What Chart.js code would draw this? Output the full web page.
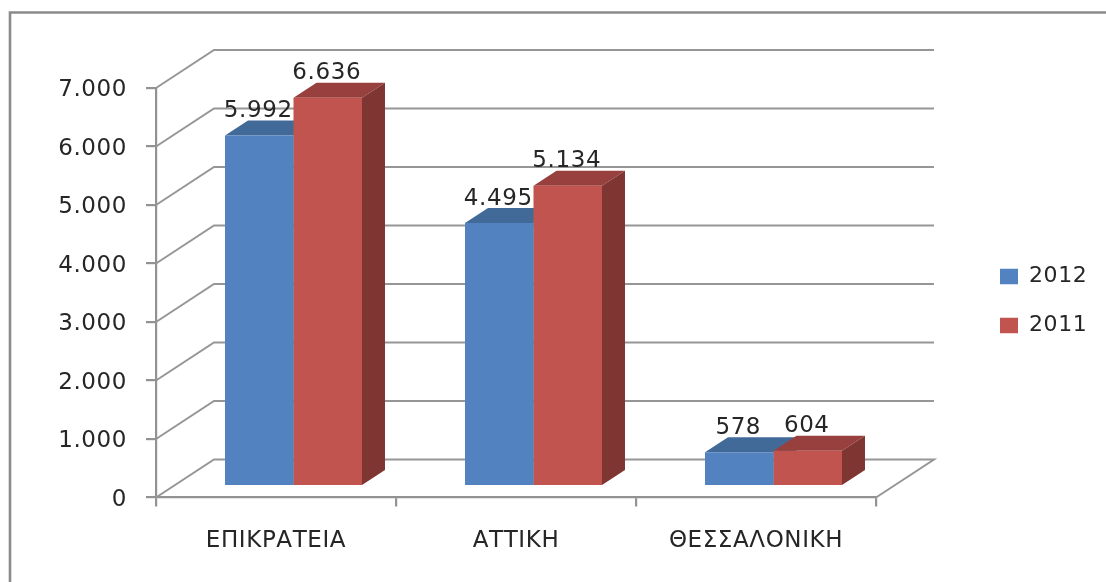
<!DOCTYPE html>
<html>
<head>
<meta charset="utf-8">
<style>
html,body{margin:0;padding:0;background:#fff;}
canvas{display:block;filter:blur(0.7px);}
</style>
<script src="https://cdn.jsdelivr.net/npm/chart.js@4"></script>
</head>
<body>
<canvas id="c" width="1106" height="582" style="width:1106px;height:582px"></canvas>
<script>
const categories = ['ΕΠΙΚΡΑΤΕΙΑ', 'ΑΤΤΙΚΗ', 'ΘΕΣΣΑΛΟΝΙΚΗ'];
const values2012 = [5992, 4495, 578];
const values2011 = [6636, 5134, 604];
const seriesNames = ['2012', '2011'];
const yTicks = [0, 1000, 2000, 3000, 4000, 5000, 6000, 7000];

const FONT = '"DejaVu Sans"';
const TEXT = '#262626';
const SPACING = '0.6px';
const fmt = v => String(v).replace(/\B(?=(\d{3})+$)/g, '.');
const wall = {dx: 58, dy: -38};
const barOff = {dx: 17.5, dy: -11.5};
const depth = {dx: 23, dy: -15};
const faces = [{top: '#426a99', side: '#3a5d85'}, {top: '#97403e', side: '#7f3633'}];

function poly(ctx, pts, fill) {
  ctx.beginPath();
  pts.forEach((p, i) => i ? ctx.lineTo(p[0], p[1]) : ctx.moveTo(p[0], p[1]));
  ctx.closePath();
  ctx.fillStyle = fill;
  ctx.fill();
}

const threeD = {
  id: 'threeD',
  beforeLayout(chart) {
    const lg = chart.legend;
    if (lg && !lg._patched) {
      const f = lg.fit;
      lg.fit = function () { f.call(this); this.width = 230; };
      lg._patched = true;
    }
  },
  afterLayout(chart) {
    const lg = chart.legend;
    lg.left = 973; lg.right = 1106; lg.top = 238.5; lg.bottom = 400;
  },
  beforeDraw(chart) {
    const ctx = chart.ctx;
    ctx.letterSpacing = SPACING;
    ctx.save();
    ctx.strokeStyle = '#8a8a8a';
    ctx.lineWidth = 2.6;
    ctx.beginPath();
    ctx.moveTo(10, 582); ctx.lineTo(10, 12.5); ctx.lineTo(1106, 12.5);
    ctx.stroke();
    ctx.restore();
  },
  beforeDatasetsDraw(chart) {
    const ctx = chart.ctx, y = chart.scales.y, x = chart.scales.x;
    const L = x.left, R = x.right;
    ctx.save();
    ctx.strokeStyle = '#969696';
    ctx.lineWidth = 2;
    yTicks.forEach(v => {
      const p = y.getPixelForValue(v);
      ctx.beginPath();
      ctx.moveTo(L, p);
      ctx.lineTo(L + wall.dx, p + wall.dy);
      ctx.lineTo(R + wall.dx, p + wall.dy);
      if (v === 0) ctx.lineTo(R, p);
      ctx.stroke();
    });
    ctx.restore();
    ctx.save();
    ctx.translate(barOff.dx, barOff.dy);
    chart.getSortedVisibleDatasetMetas().forEach(m => {
      const c = faces[m.index];
      m.data.forEach(el => {
        const b = el.getProps(['x', 'y', 'base', 'width'], true);
        const l = b.x - b.width / 2, r = b.x + b.width / 2;
        poly(ctx, [[l, b.y], [r, b.y], [r + depth.dx, b.y + depth.dy], [l + depth.dx, b.y + depth.dy]], c.top);
        poly(ctx, [[r, b.y], [r + depth.dx, b.y + depth.dy], [r + depth.dx, b.base + depth.dy], [r, b.base]], c.side);
      });
    });
  },
  afterDatasetsDraw(chart) {
    const ctx = chart.ctx;
    ctx.restore();
    ctx.save();
    ctx.font = '23px ' + FONT;
    ctx.fillStyle = TEXT;
    ctx.textAlign = 'center';
    ctx.textBaseline = 'alphabetic';
    chart.getSortedVisibleDatasetMetas().forEach(m => {
      m.data.forEach((el, i) => {
        const b = el.getProps(['x', 'y'], true);
        const v = chart.data.datasets[m.index].data[i];
        ctx.fillText(fmt(v), b.x + barOff.dx - 1, b.y + barOff.dy - 18.5);
      });
    });
    ctx.restore();
  }
};

new Chart(document.getElementById('c'), {
  type: 'bar',
  data: {
    labels: categories,
    datasets: [
      {label: seriesNames[0], data: values2012, backgroundColor: '#5283c0', clip: false},
      {label: seriesNames[1], data: values2011, backgroundColor: '#c2544f', clip: false}
    ]
  },
  options: {
    responsive: false,
    animation: false,
    devicePixelRatio: 1,
    categoryPercentage: 137 / 240,
    barPercentage: 1,
    layout: {padding: {top: 88, left: 0, right: 0, bottom: 0}},
    plugins: {
      tooltip: {enabled: false},
      title: {display: false},
      legend: {
        display: true,
        position: 'right',
        align: 'start',
        labels: {
          boxWidth: 18,
          boxHeight: 15.5,
          padding: 27,
          color: TEXT,
          font: {family: FONT, size: 22}
        }
      }
    },
    scales: {
      x: {
        afterFit(s) { s.height = 84.5; },
        grid: {drawOnChartArea: false, drawTicks: true, tickLength: 9, color: '#929292', lineWidth: 2.2},
        border: {color: '#929292', width: 2.2},
        ticks: {color: TEXT, padding: 21, maxRotation: 0, font: {family: FONT, size: 23}}
      },
      y: {
        min: 0,
        max: 7000,
        afterFit(s) { s.width = 156; },
        afterBuildTicks(s) { s.ticks = yTicks.map(v => ({value: v})); },
        grid: {drawOnChartArea: false, drawTicks: true, tickLength: 10, color: '#929292', lineWidth: 2.2},
        border: {color: '#929292', width: 2.2},
        ticks: {color: TEXT, padding: 19, labelOffset: 2.5, callback: v => fmt(v), font: {family: FONT, size: 23}}
      }
    }
  },
  plugins: [threeD]
});
</script>
</body>
</html>
